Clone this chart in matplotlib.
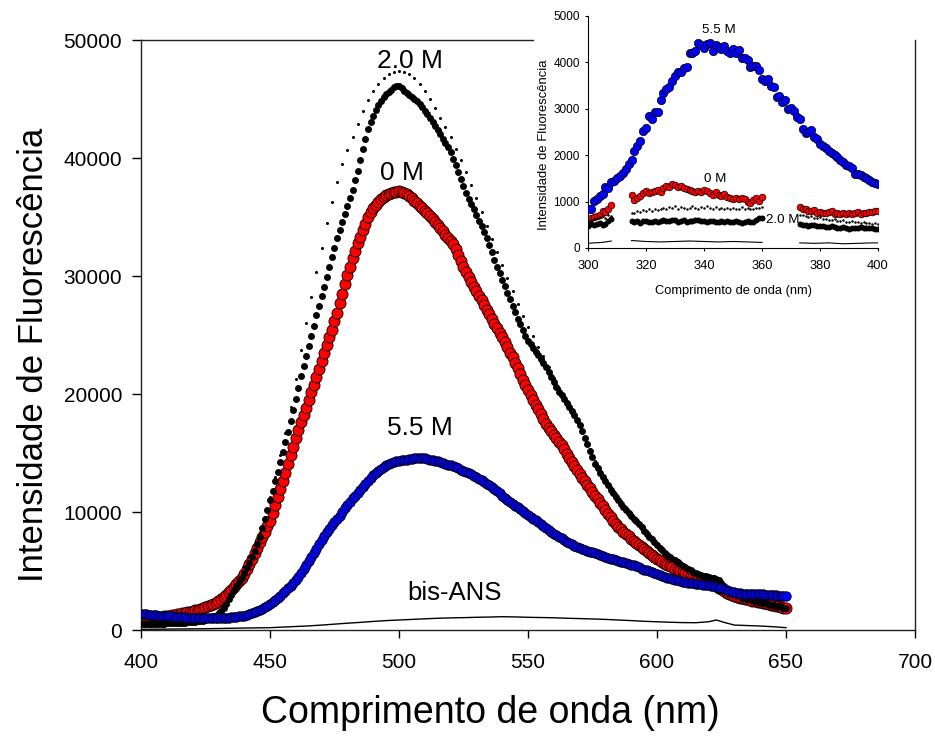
import matplotlib
matplotlib.use("Agg")
import matplotlib.pyplot as plt
import numpy as np

plt.rcParams['font.family'] = ['Liberation Sans', 'DejaVu Sans']

# main spectra, 400-650 nm every 1 nm (10 values per row: 400, 410, ... 640, then 650)
wl = np.arange(400, 651)

i_0M = [770, 810, 850, 890, 930, 960, 1000, 1050, 1100, 1150,
        1190, 1230, 1270, 1310, 1350, 1390, 1420, 1460, 1500, 1550,
        1600, 1660, 1720, 1780, 1850, 1920, 2000, 2100, 2200, 2330,
        2470, 2630, 2800, 3000, 3200, 3420, 3650, 3900, 4150, 4450,
        4760, 5180, 5600, 6050, 6500, 6980, 7450, 7900, 8350, 8800,
        9270, 9950, 10600, 11300, 11950, 12650, 13350, 14100, 14800, 15550,
        16300, 16950, 17600, 18200, 18850, 19500, 20150, 20800, 21450, 22150,
        22800, 23500, 24150, 24800, 25450, 26150, 26900, 27700, 28500, 29300,
        30050, 30800, 31500, 32150, 32800, 33350, 33900, 34450, 35000, 35400,
        35750, 36050, 36300, 36500, 36700, 36850, 36950, 37050, 37100, 37150,
        37200, 37150, 37050, 36950, 36800, 36600, 36350, 36150, 35950, 35750,
        35550, 35350, 35100, 34850, 34600, 34350, 34050, 33800, 33500, 33250,
        33000, 32700, 32300, 31800, 31300, 30800, 30300, 29900, 29500, 29100,
        28700, 28350, 27950, 27550, 27150, 26750, 26350, 25950, 25600, 25200,
        24800, 24400, 23950, 23500, 23100, 22650, 22200, 21700, 21200, 20750,
        20300, 19900, 19500, 19100, 18700, 18300, 17900, 17500, 17150, 16850,
        16550, 16250, 15950, 15650, 15300, 14950, 14600, 14250, 13900, 13550,
        13200, 12900, 12600, 12300, 12000, 11700, 11400, 11100, 10800, 10500,
        10200, 9850, 9550, 9250, 9000, 8750, 8550, 8350, 8150, 7950,
        7750, 7550, 7400, 7200, 7050, 6850, 6700, 6550, 6400, 6200,
        6050, 5900, 5750, 5600, 5500, 5400, 5300, 5200, 5100, 5000,
        4900, 4800, 4700, 4600, 4500, 4400, 4350, 4250, 4200, 4100,
        4050, 3950, 3850, 3700, 3600, 3450, 3300, 3150, 3050, 2950,
        2900, 2800, 2750, 2700, 2650, 2600, 2550, 2500, 2450, 2400,
        2350, 2300, 2250, 2200, 2150, 2100, 2050, 2000, 1950, 1900,
        1850]

i_2M = [500, 505, 510, 515, 520, 525, 530, 535, 540, 550,
        560, 570, 580, 590, 600, 610, 620, 635, 650, 665,
        680, 700, 730, 760, 800, 850, 920, 1000, 1100, 1230,
        1400, 1620, 1900, 2230, 2600, 3000, 3400, 3750, 4100, 4450,
        4800, 5250, 5700, 6200, 6700, 7300, 7900, 8650, 9400, 10200,
        11000, 11800, 12600, 13400, 14200, 15050, 15900, 16800, 17700, 18650,
        19600, 20550, 21500, 22350, 23200, 24050, 24900, 25800, 26700, 27500,
        28300, 29100, 29900, 30750, 31600, 32400, 33200, 33900, 34600, 35250,
        35900, 36600, 37300, 38100, 38900, 39850, 40800, 41650, 42500, 43050,
        43600, 44050, 44500, 44850, 45200, 45400, 45600, 45800, 46000, 46100,
        46100, 45900, 45700, 45500, 45300, 45150, 45000, 44800, 44600, 44300,
        44000, 43700, 43400, 43050, 42700, 42350, 42000, 41600, 41250, 40900,
        40500, 39950, 39400, 38800, 38200, 37600, 37000, 36550, 36100, 35650,
        35200, 34700, 34200, 33700, 33200, 32600, 32000, 31400, 30800, 30250,
        29700, 29150, 28600, 28050, 27500, 26950, 26400, 25900, 25400, 24950,
        24500, 24200, 23900, 23600, 23300, 22950, 22600, 22250, 21900, 21450,
        21000, 20600, 20200, 19900, 19600, 19250, 18900, 18550, 18200, 17800,
        17400, 16850, 16300, 15750, 15200, 14650, 14100, 13700, 13300, 12950,
        12600, 12250, 11900, 11600, 11300, 11000, 10700, 10450, 10200, 9950,
        9700, 9450, 9200, 8950, 8700, 8400, 8150, 7900, 7700, 7450,
        7200, 6950, 6750, 6550, 6400, 6200, 6050, 5900, 5750, 5600,
        5450, 5300, 5200, 5050, 4950, 4850, 4750, 4650, 4600, 4550,
        4500, 4450, 4400, 4300, 4200, 3950, 3700, 3500, 3300, 3150,
        3050, 2950, 2850, 2750, 2700, 2650, 2600, 2550, 2500, 2400,
        2350, 2300, 2250, 2200, 2150, 2100, 2050, 2000, 1950, 1900,
        1850]

i_55M = [1350, 1340, 1320, 1300, 1280, 1260, 1250, 1230, 1220, 1200,
         1190, 1170, 1160, 1140, 1120, 1100, 1090, 1070, 1060, 1050,
         1040, 1030, 1020, 1015, 1010, 1010, 1010, 1010, 1010, 1015,
         1020, 1030, 1040, 1050, 1060, 1080, 1100, 1120, 1150, 1180,
         1220, 1270, 1330, 1410, 1500, 1600, 1700, 1820, 1950, 2070,
         2200, 2370, 2550, 2720, 2900, 3100, 3300, 3520, 3750, 3970,
         4200, 4500, 4800, 5150, 5500, 5850, 6200, 6550, 6900, 7250,
         7600, 7950, 8300, 8600, 8900, 9150, 9400, 9700, 10000, 10300,
         10600, 10880, 11150, 11400, 11650, 11900, 12150, 12400, 12650, 12880,
         13100, 13300, 13500, 13680, 13850, 13980, 14100, 14180, 14250, 14300,
         14350, 14380, 14400, 14450, 14500, 14530, 14550, 14580, 14600, 14580,
         14550, 14500, 14450, 14400, 14350, 14300, 14250, 14180, 14100, 14020,
         13950, 13880, 13800, 13700, 13600, 13500, 13400, 13300, 13200, 13080,
         12950, 12820, 12700, 12550, 12400, 12250, 12100, 11920, 11750, 11580,
         11400, 11220, 11050, 10880, 10700, 10550, 10400, 10220, 10050, 9900,
         9750, 9600, 9450, 9300, 9150, 8980, 8800, 8620, 8450, 8300,
         8150, 8020, 7900, 7780, 7650, 7500, 7350, 7250, 7150, 7050,
         6950, 6880, 6800, 6720, 6650, 6580, 6500, 6420, 6350, 6280,
         6200, 6120, 6050, 6000, 5950, 5880, 5800, 5750, 5700, 5620,
         5550, 5480, 5400, 5300, 5200, 5120, 5050, 4980, 4900, 4820,
         4750, 4680, 4600, 4520, 4450, 4380, 4300, 4250, 4200, 4150,
         4100, 4050, 4000, 3980, 3950, 3920, 3900, 3880, 3850, 3820,
         3800, 3750, 3700, 3650, 3600, 3520, 3450, 3380, 3300, 3250,
         3200, 3150, 3100, 3080, 3050, 3050, 3050, 3050, 3050, 3050,
         3050, 3020, 3000, 2980, 2950, 2950, 2950, 2920, 2900, 2900,
         2900]

# second 2.0 M trace (small dots), every 2 nm
wl2 = np.arange(400, 651, 2)
i_2M_b = [700, 720, 740, 760, 770, 790, 800, 820, 840, 870,
          900, 950, 1030, 1150, 1330, 1600, 2050, 2700, 3500, 4400,
          5350, 6200, 7200, 8200, 9600, 11300, 13000, 14800, 16700, 18900,
          21300, 23700, 26000, 28200, 30300, 32400, 34500, 36300, 38000, 39500,
          40700, 41800, 42900, 44000, 44900, 45700, 46300, 46800, 47100, 47300,
          47400, 47300, 47100, 46800, 46300, 45700, 45000, 44200, 43400, 42600,
          41800, 40800, 39800, 38800, 37700, 36600, 35400, 34200, 33100, 32000,
          30900, 29800, 28700, 27600, 26600, 25700, 24900, 24000, 23200, 22300,
          21400, 20500, 19800, 19000, 18200, 17400, 16400, 15300, 14300, 13500,
          12800, 12100, 11500, 10900, 10400, 9900, 9400, 8900, 8400, 7900,
          7400, 6950, 6550, 6200, 5900, 5600, 5350, 5100, 4900, 4750,
          4650, 4550, 4300, 3800, 3400, 3150, 2950, 2800, 2700, 2600,
          2450, 2350, 2250, 2150, 2050, 1950]

wl_bis = [400, 405, 410, 415, 420, 425, 430, 435, 440, 445, 450, 455, 460,
          465, 470, 475, 480, 485, 490, 495, 500, 505, 510, 515, 520, 525,
          530, 535, 540, 545, 550, 555, 560, 565, 570, 575, 580, 585, 590,
          595, 600, 605, 610, 615, 620, 623, 626, 630, 635, 640, 645, 650]
i_bis = [60, 70, 80, 90, 100, 110, 130, 150, 170, 185, 200, 250, 300,
         350, 420, 500, 580, 650, 730, 800, 850, 900, 950, 1000, 1030, 1050,
         1080, 1100, 1130, 1110, 1080, 1060, 1040, 1000, 970, 940, 900, 850, 800,
         740, 700, 660, 630, 620, 700, 850, 650, 420, 380, 340, 280, 200]

# inset, 300-400 nm
wl_in = np.arange(300, 401)
in_55M = [840, 850, 1010, 1050, 1130, 1160, 1320, 1300, 1430, 1450,
          1500, 1550, 1610, 1700, 1800, 1900, 2100, 2200, 2300, 2520,
          2580, 2840, 2780, 2920, 2940, 3200, 3350, 3430, 3460, 3600,
          3700, 3790, 3800, 3870, 3900, 4200, 4200, 4240, 4420, 4370,
          4320, 4400, 4420, 4250, 4380, 4330, 4290, 4350, 4250, 4200,
          4290, 4200, 4260, 4100, 4100, 4050, 3900, 3930, 3920, 3830,
          3650, 3600, 3650, 3500, 3480, 3250, 3280, 3150, 3180, 3000,
          3020, 2950, 2830, 2780, 2560, 2480, 2500, 2540, 2400, 2340,
          2250, 2200, 2150, 2100, 2050, 2000, 1950, 1900, 1850, 1780,
          1760, 1720, 1600, 1590, 1570, 1520, 1510, 1460, 1420, 1400,
          1380]

# the other inset traces have two gaps (309-314 and 361-372 nm)
wl_seg = [np.arange(300, 309), np.arange(315, 361), np.arange(373, 401)]
in_0M = [[590, 650, 670, 690, 720, 790, 770, 830, 930],
         [1150, 1040, 1080, 1120, 1180, 1220, 1190, 1200, 1230, 1260,
          1200, 1300, 1340, 1320, 1370, 1350, 1310, 1340, 1300, 1280,
          1250, 1220, 1200, 1220, 1210, 1260, 1230, 1180, 1150, 1200,
          1150, 1120, 1160, 1100, 1080, 1060, 1080, 1060, 1070, 1050,
          1000, 960, 1040, 1080, 1020, 1090],
         [880, 850, 830, 790, 800, 810, 760, 780, 760, 750,
          780, 790, 740, 760, 730, 760, 740, 750, 730, 760,
          780, 740, 760, 750, 770, 780, 790, 800]]
in_2M = [[480, 520, 500, 510, 530, 500, 520, 580, 620],
         [590, 560, 580, 540, 580, 590, 560, 570, 580, 560,
          580, 600, 590, 580, 610, 600, 570, 590, 600, 560,
          580, 590, 600, 610, 590, 580, 560, 590, 580, 570,
          560, 590, 560, 580, 570, 560, 580, 570, 540, 560,
          580, 570, 560, 600, 640, 650],
         [520, 500, 490, 480, 500, 490, 470, 480, 470, 450,
          460, 470, 450, 430, 440, 450, 420, 400, 430, 440,
          420, 450, 430, 420, 440, 420, 410, 410]]
in_2M_b = [[560, 600, 620, 640, 660, 680, 650, 700, 690],
           [750, 760, 800, 780, 820, 790, 830, 800, 850, 820,
            840, 870, 850, 880, 860, 900, 850, 880, 870, 840,
            860, 900, 870, 850, 880, 860, 900, 870, 840, 880,
            850, 870, 830, 860, 840, 870, 850, 830, 880, 840,
            860, 830, 850, 870, 860, 880],
           [720, 700, 680, 660, 690, 650, 640, 660, 620, 630,
            610, 600, 620, 590, 580, 600, 570, 560, 580, 550,
            560, 540, 550, 530, 540, 520, 530, 520]]
wl_bis_in = [[300, 302, 304, 306, 308],
             [315, 320, 325, 330, 335, 340, 345, 350, 355, 360],
             [373, 378, 383, 388, 393, 398, 400]]
in_bis = [[100, 110, 115, 130, 150],
          [160, 140, 130, 140, 150, 140, 130, 140, 130, 120],
          [110, 100, 110, 90, 100, 110, 110]]

fig = plt.figure(figsize=(9.35, 7.4), dpi=100)
ax = fig.add_axes([0.1508, 0.1486, 0.8278, 0.7973])

ax.plot(wl, i_0M, 'o', ms=8, mfc='red', mec='black', mew=0.6, zorder=2)
ax.plot(wl, i_2M, 'o', ms=5, mfc='black', mec='black', mew=0, zorder=3)
ax.plot(wl2, i_2M_b, 'o', ms=2.2, mfc='black', mec='black', mew=0, zorder=3)
ax.plot(wl, i_55M, 'o', ms=6.8, mfc='blue', mec='black', mew=0.6, zorder=4)
ax.plot(wl_bis, i_bis, '-', color='black', lw=1.0, zorder=5)

ax.text(504.1, 47620, '2.0 M', fontsize=19, ha='center', va='baseline')
ax.text(501.2, 38115, '0 M', fontsize=19, ha='center', va='baseline')
ax.text(507.9, 16550, '5.5 M', fontsize=19, ha='center', va='baseline')
ax.text(521.7, 2547, 'bis-ANS', fontsize=18.5, ha='center', va='baseline')

ax.set_xlim(400, 700)
ax.set_ylim(0, 50000)
ax.set_xticks([400, 450, 500, 550, 600, 650, 700])
ax.set_yticks([0, 10000, 20000, 30000, 40000, 50000])
ax.tick_params(axis='x', direction='out', length=5.5, width=1, labelsize=15, pad=11)
ax.tick_params(axis='y', direction='out', length=6.5, width=1, labelsize=15, pad=7)
for s in ax.spines.values():
    s.set_linewidth(1)
    s.set_color('#222222')
ax.spines['top'].set_bounds(400, 552)
ax.set_xlabel('Comprimento de onda (nm)', fontsize=27)
ax.set_ylabel('Intensidade de Fluorescência', fontsize=25)
ax.xaxis.set_label_coords(0.451, -0.11)
ax.yaxis.set_label_coords(-0.118, 0.467)

# inset
axi = fig.add_axes([0.6289, 0.6649, 0.3102, 0.3135])
axi.set_facecolor('white')
axi.plot(wl_in, in_55M, 'o', ms=6, mfc='blue', mec='black', mew=0.5, zorder=4)
for k in range(3):
    axi.plot(wl_seg[k], in_0M[k], 'o', ms=4.8, mfc='red', mec='black', mew=0.5, zorder=2)
    axi.plot(wl_seg[k], in_2M[k], 'o', ms=4.3, mfc='black', mec='black', mew=0, zorder=3)
    axi.plot(wl_seg[k], in_2M_b[k], 'o', ms=1.8, mfc='black', mec='black', mew=0, zorder=3)
    axi.plot(wl_bis_in[k], in_bis[k], '-', color='black', lw=0.8, zorder=5)

axi.text(345.2, 4627, '5.5 M', fontsize=9.6, ha='center', va='baseline')
axi.text(343.9, 1413, '0 M', fontsize=9.6, ha='center', va='baseline')
axi.text(367.1, 538, '2.0 M', fontsize=9.6, ha='center', va='baseline')

axi.set_xlim(300, 400)
axi.set_ylim(0, 5000)
axi.set_xticks([300, 320, 340, 360, 380, 400])
axi.set_yticks([0, 1000, 2000, 3000, 4000, 5000])
axi.spines['top'].set_visible(False)
axi.spines['right'].set_visible(False)
axi.tick_params(axis='x', direction='out', length=2, width=0.8, labelsize=9.3, pad=7)
axi.tick_params(axis='y', direction='out', length=2, width=0.8, labelsize=8.5, pad=4)
axi.set_xlabel('Comprimento de onda (nm)', fontsize=9.3)
axi.set_ylabel('Intensidade de Fluorescência', fontsize=9.4)
axi.xaxis.set_label_coords(0.5, -0.16)
axi.yaxis.set_label_coords(-0.131, 0.444)

fig.savefig('out.png', dpi=100)
